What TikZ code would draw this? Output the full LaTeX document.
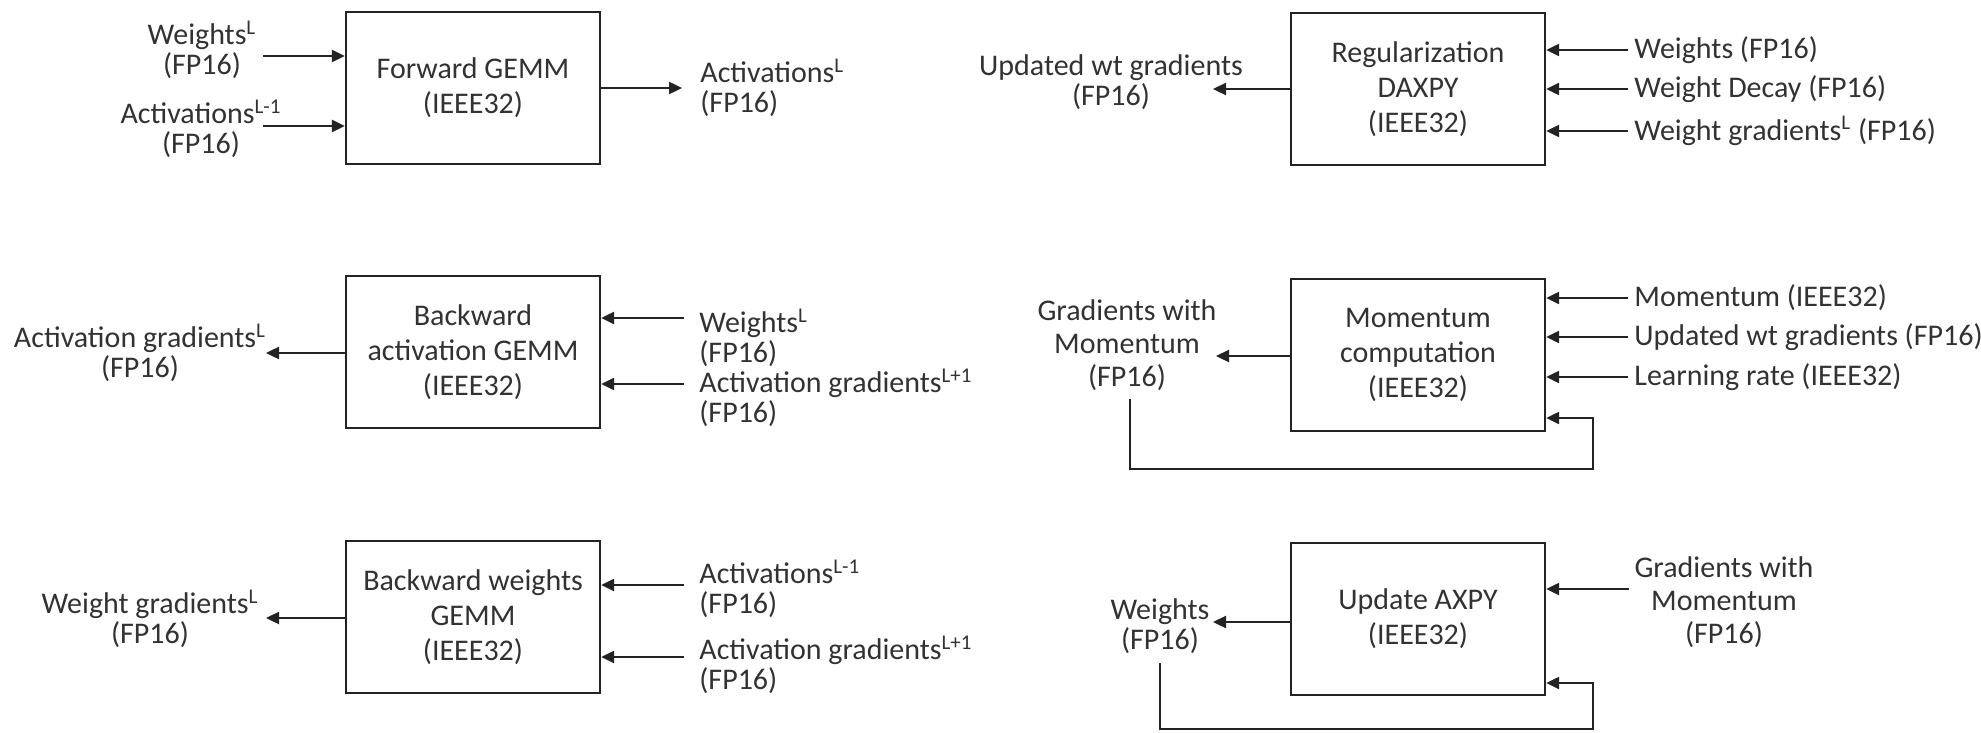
\documentclass[tikz,border=0pt]{standalone}
\usepackage{fontspec}
\setmainfont{Carlito}
\usetikzlibrary{arrows.meta}
\definecolor{ink}{RGB}{35,35,35}
\definecolor{txt}{RGB}{50,50,50}
\begin{document}
\begin{tikzpicture}[x=0.5pt,y=-0.5pt,
  every node/.style={font=\fontsize{15}{17.5}\selectfont, text=txt, inner sep=0pt},
  blk/.style={draw=ink, line width=1.2pt, minimum width=127pt, minimum height=76pt, align=center},
  lbl/.style={align=center, font=\fontsize{15}{15}\selectfont},
  lbll/.style={align=left, anchor=west, font=\fontsize{15}{15}\selectfont},
  lblt/.style={align=center, font=\fontsize{15}{16.5}\selectfont},
  arr/.style={draw=ink, line width=1.2pt, -{Triangle[length=6.5pt,width=6pt]}},
]
\useasboundingbox (0,0) rectangle (1981,733);

% ---------- boxes ----------
\node[blk] (B1) at (473,88) {Forward GEMM\\(IEEE32)};
\node[blk] (B2) at (473,352) {Backward\\activation GEMM\\(IEEE32)};
\node[blk] (B3) at (473,617) {Backward weights\\GEMM\\(IEEE32)};
\node[blk] (R1) at (1418,89) {Regularization\\DAXPY\\(IEEE32)};
\node[blk] (R2) at (1418,355) {Momentum\\computation\\(IEEE32)};
\node[blk] (R3) at (1418,619) {Update AXPY\\(IEEE32)};

% ---------- Forward GEMM ----------
\node[lbl] (l1a) at (202,50) {Weights\textsuperscript{L}\\(FP16)};
\node[lbl] (l1b) at (201,129) {Activations\textsuperscript{L-1}\\(FP16)};
\coordinate (s1a) at (263,56);
\coordinate (s1b) at (263,126);
\draw[arr] (s1a) -- (s1a -| B1.west);
\draw[arr] (s1b) -- (s1b -| B1.west);
\node[lbll] (o1) at (700,88) {Activations\textsuperscript{L}\\(FP16)};
\coordinate (e1) at (682,88);
\draw[arr] (B1.east |- e1) -- (e1);

% ---------- Backward activation GEMM ----------
\node[lbl] (o2) at (140,353) {Activation gradients\textsuperscript{L}\\(FP16)};
\coordinate (e2) at (266,353);
\draw[arr] (B2.west |- e2) -- (e2);
\node[lbll] (l2a) at (699,338) {Weights\textsuperscript{L}\\(FP16)};
\node[lbll] (l2b) at (699,398) {Activation gradients\textsuperscript{L+1}\\(FP16)};
\coordinate (s2a) at (684,318);
\coordinate (s2b) at (684,384);
\draw[arr] (s2a) -- (s2a -| B2.east);
\draw[arr] (s2b) -- (s2b -| B2.east);

% ---------- Backward weights GEMM ----------
\node[lbl] (o3) at (150,619) {Weight gradients\textsuperscript{L}\\(FP16)};
\coordinate (e3) at (266,618);
\draw[arr] (B3.west |- e3) -- (e3);
\node[lbll] (l3a) at (699,589) {Activations\textsuperscript{L-1}\\(FP16)};
\node[lbll] (l3b) at (699,665) {Activation gradients\textsuperscript{L+1}\\(FP16)};
\coordinate (s3a) at (684,585);
\coordinate (s3b) at (684,657);
\draw[arr] (s3a) -- (s3a -| B3.east);
\draw[arr] (s3b) -- (s3b -| B3.east);

% ---------- Regularization DAXPY ----------
\node[lbl] (o4) at (1111,82) {Updated wt gradients\\(FP16)};
\coordinate (e4) at (1213,89);
\draw[arr] (R1.west |- e4) -- (e4);
\node[lbll] (l4a) at (1634,50) {Weights (FP16)};
\node[lbll] (l4b) at (1634,89) {Weight Decay (FP16)};
\node[lbll] (l4c) at (1634,131) {Weight gradients\textsuperscript{L} (FP16)};
\coordinate (s4a) at (1628,50);
\coordinate (s4b) at (1628,89);
\coordinate (s4c) at (1628,131);
\draw[arr] (s4a) -- (s4a -| R1.east);
\draw[arr] (s4b) -- (s4b -| R1.east);
\draw[arr] (s4c) -- (s4c -| R1.east);

% ---------- Momentum computation ----------
\node[lblt] (o5) at (1127,345) {Gradients with\\Momentum\\(FP16)};
\coordinate (e5) at (1216,356);
\draw[arr] (R2.west |- e5) -- (e5);
\node[lbll] (l5a) at (1634,298) {Momentum (IEEE32)};
\node[lbll] (l5b) at (1634,337) {Updated wt gradients (FP16)};
\node[lbll] (l5c) at (1634,377) {Learning rate (IEEE32)};
\coordinate (s5a) at (1628,298);
\coordinate (s5b) at (1628,337);
\coordinate (s5c) at (1628,377);
\draw[arr] (s5a) -- (s5a -| R2.east);
\draw[arr] (s5b) -- (s5b -| R2.east);
\draw[arr] (s5c) -- (s5c -| R2.east);
\coordinate (f5) at (1130,399);
\coordinate (c5) at (1593,469);
\draw[arr] (f5) |- (c5) |- (R2.east |- 0,418);

% ---------- Update AXPY ----------
\node[lbl] (o6) at (1160,626) {Weights\\(FP16)};
\coordinate (e6) at (1213,622);
\draw[arr] (R3.west |- e6) -- (e6);
\node[lblt] (l6a) at (1724,602) {Gradients with\\Momentum\\(FP16)};
\coordinate (s6a) at (1629,589);
\draw[arr] (s6a) -- (s6a -| R3.east);
\coordinate (f6) at (1160,663);
\coordinate (c6) at (1593,729);
\draw[arr] (f6) |- (c6) |- (R3.east |- 0,683);
\end{tikzpicture}
\end{document}
